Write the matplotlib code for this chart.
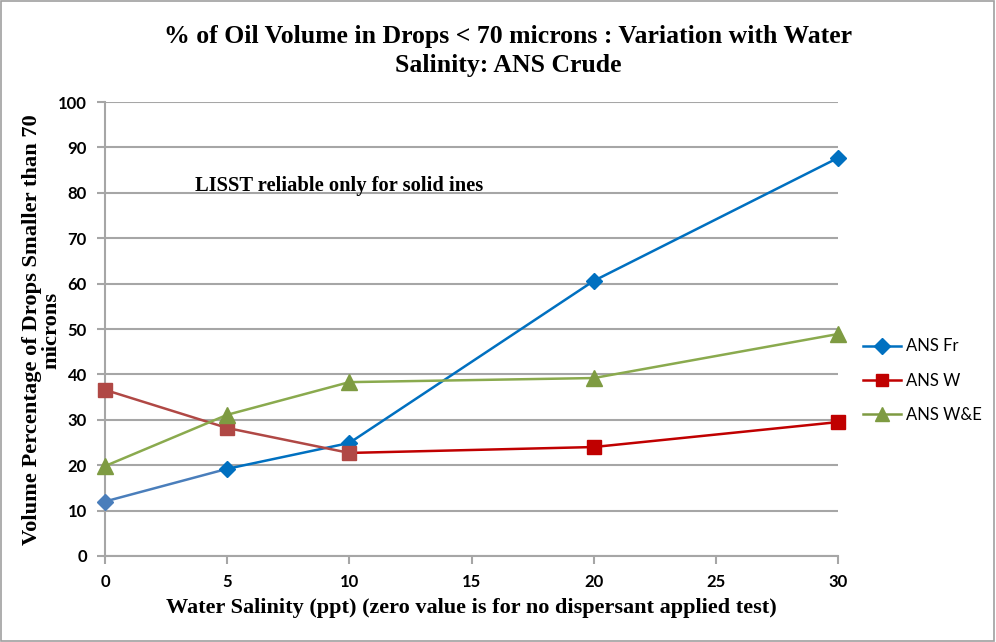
import matplotlib
matplotlib.use("Agg")
import matplotlib.pyplot as plt
from matplotlib.lines import Line2D
from matplotlib.patches import Rectangle

salinity = [0, 5, 10, 20, 30]
ans_fr = [12.0, 19.2, 24.9, 60.6, 87.7]
ans_w = [36.6, 28.2, 22.7, 24.0, 29.5]
ans_we = [19.8, 31.1, 38.3, 39.2, 48.9]
series_names = ["ANS Fr", "ANS W", "ANS W&E"]
x_ticks = [0, 5, 10, 15, 20, 25, 30]
y_ticks = [0, 10, 20, 30, 40, 50, 60, 70, 80, 90, 100]

# per-segment / per-point colours (style)
fr_seg = ["#4A7EBB", "#0070C0", "#0070C0", "#0070C0"]
fr_pt = ["#4A7EBB", "#0070C0", "#0070C0", "#0070C0", "#0070C0"]
w_seg = ["#B04845", "#B04845", "#C00000", "#C00000"]
w_pt = ["#B04845", "#B04845", "#B04845", "#C00000", "#C00000"]
we_seg = ["#8AAA4E"] * 4
we_pt = ["#7E9B42"] * 5

fig = plt.figure(figsize=(9.96, 6.42), dpi=100)
fig.patches.append(Rectangle((0.001, 0.001), 0.997, 0.997, transform=fig.transFigure,
                             fill=False, edgecolor="#A0A0A0", linewidth=1.2))
ax = fig.add_axes([0.1054, 0.134, 0.7360, 0.707])

def draw(vals, segc, ptc, marker, ms):
    for i in range(len(salinity) - 1):
        ax.plot(salinity[i:i + 2], vals[i:i + 2], color=segc[i], lw=1.8, zorder=3,
                solid_capstyle="butt")
    for i in range(len(salinity)):
        ax.plot([salinity[i]], [vals[i]], marker=marker, color=ptc[i], ms=ms,
                markeredgecolor=ptc[i], zorder=4, clip_on=False)

draw(ans_fr, fr_seg, fr_pt, "D", 8)
draw(ans_w, w_seg, w_pt, "s", 10)
draw(ans_we, we_seg, we_pt, "^", 11)

ax.set_xlim(0, 30)
ax.set_ylim(0, 100)
ax.set_xticks(x_ticks)
ax.set_yticks(y_ticks)
ax.grid(axis="y", color="#A6A6A6", lw=1.5, zorder=0)
ax.set_axisbelow(True)
for s in ["top", "right"]:
    ax.spines[s].set_visible(False)
for s in ["left", "bottom"]:
    ax.spines[s].set_color("#A6A6A6")
    ax.spines[s].set_linewidth(1.5)
ax.tick_params(axis="both", color="#A6A6A6", width=1.5, length=6, direction="out")
for lab in ax.get_xticklabels() + ax.get_yticklabels():
    lab.set_fontfamily("Lato")
    lab.set_fontweight("bold")
    lab.set_fontsize(12)
ax.tick_params(axis="x", pad=7)
ax.tick_params(axis="y", pad=7)

serif = "Liberation Serif"
fig.text(0.510, 0.921, "% of Oil Volume in Drops < 70 microns : Variation with Water\nSalinity: ANS Crude",
         ha="center", va="center", fontsize=18.5, fontweight="bold", family=serif, linespacing=1.35)
ax.set_xlabel("Water Salinity (ppt) (zero value is for no dispersant applied test)",
              fontsize=16, fontweight="bold", family=serif, labelpad=6)
fig.text(0.042, 0.486, "Volume Percentage of Drops Smaller than 70\nmicrons", rotation=90,
         ha="center", va="center", fontsize=16.2, fontweight="bold", family=serif, linespacing=1.0)
ax.text(3.68, 81.5, "LISST reliable only for solid ines", fontsize=14.8, fontweight="bold",
        family=serif, ha="left", va="center")

handles = [
    Line2D([], [], color="#0070C0", lw=1.8, marker="D", ms=8),
    Line2D([], [], color="#C00000", lw=1.8, marker="s", ms=9),
    Line2D([], [], color="#7E9B42", lw=1.8, marker="^", ms=10),
]
fig.legend(handles, series_names, loc="center left", bbox_to_anchor=(0.851, 0.407),
           frameon=False, prop={"family": "Lato", "size": 12},
           handlelength=2.3, labelspacing=1.1, handletextpad=0.3)

fig.savefig("out.png", dpi=100)
